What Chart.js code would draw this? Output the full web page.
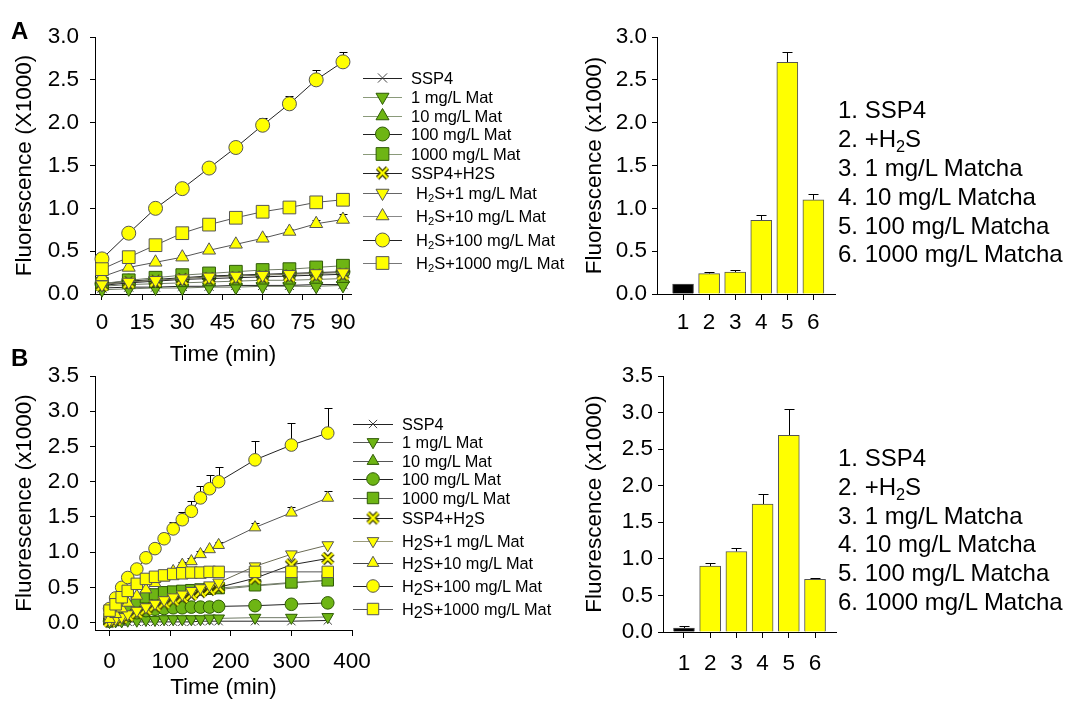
<!DOCTYPE html>
<html>
<head>
<meta charset="utf-8">
<script src="https://cdn.jsdelivr.net/npm/chart.js@4.4.0/dist/chart.umd.min.js"></script>
<style>
  body { margin: 0; background: #fff; }
  #fig { position: relative; width: 1066px; height: 701px; overflow: hidden;
         font-family: 'Liberation Sans', Arial, sans-serif; color: #000; }
  #fig canvas { position: absolute; }
  .panel { position: absolute; font-weight: bold; font-size: 24px; line-height: 1; }
  .leg { position: absolute; white-space: nowrap; line-height: 1; transform: translateY(-50%); }
  .legA { font-size: 16.5px; }
  .legB { font-size: 16.3px; }
  .legB sub { font-size: 100%; vertical-align: -0.22em; }
  .list { position: absolute; font-size: 24px; white-space: nowrap; line-height: 1; transform: translateY(-50%); }
  sub { font-size: 68%; vertical-align: -0.3em; line-height: 0; }
</style>
</head>
<body>
<div id="fig">
  <canvas id="lineA" width="580" height="370" style="left:0;top:0"></canvas>
  <canvas id="barA" width="290" height="370" style="left:560px;top:0"></canvas>
  <canvas id="lineB" width="580" height="351" style="left:0;top:350px"></canvas>
  <canvas id="barB" width="290" height="351" style="left:560px;top:350px"></canvas>
  <div class="panel" style="left:11px;top:19px">A</div>
  <div class="panel" style="left:11px;top:346px">B</div>
</div>
<script>
// ---- données ----
const timesA = [0, 10, 20, 30, 40, 50, 60, 70, 80, 90];
const ssp4A     = [0.07, 0.08, 0.08, 0.09, 0.09, 0.10, 0.10, 0.10, 0.11, 0.11];
const mat1A     = [0.05, 0.06, 0.07, 0.07, 0.08, 0.08, 0.09, 0.09, 0.09, 0.10];
const mat10A    = [0.09, 0.11, 0.12, 0.13, 0.14, 0.15, 0.16, 0.16, 0.17, 0.18];
const mat100A   = [0.12, 0.15, 0.17, 0.19, 0.21, 0.22, 0.23, 0.24, 0.25, 0.26];
const mat1000A  = [0.12, 0.16, 0.19, 0.22, 0.24, 0.26, 0.28, 0.29, 0.31, 0.33];
const h2sA      = [0.10, 0.13, 0.15, 0.17, 0.18, 0.19, 0.20, 0.21, 0.22, 0.23];
const h2s1A     = [0.11, 0.14, 0.16, 0.18, 0.20, 0.21, 0.22, 0.23, 0.24, 0.25];
const h2s10A    = [0.20, 0.31, 0.37, 0.43, 0.51, 0.58, 0.65, 0.73, 0.82, 0.87];
const h2s100A   = [0.41, 0.71, 1.00, 1.23, 1.47, 1.71, 1.97, 2.22, 2.50, 2.71];
const h2s1000A  = [0.29, 0.43, 0.57, 0.71, 0.81, 0.89, 0.96, 1.01, 1.07, 1.10];
const errH2s10A   = [0.01, 0.01, 0.01, 0.02, 0.02, 0.02, 0.03, 0.03, 0.04, 0.06];
const errH2s100A  = [0.02, 0.02, 0.02, 0.02, 0.02, 0.03, 0.08, 0.09, 0.11, 0.12];
const errH2s1000A = [0.01, 0.01, 0.02, 0.02, 0.02, 0.03, 0.03, 0.04, 0.05, 0.07];

const timesB = [0, 10, 20, 30, 45, 60, 75, 90, 105, 120, 135, 150, 165, 180, 240, 300, 360];
const ssp4B     = [0.00, 0.01, 0.01, 0.01, 0.01, 0.01, 0.01, 0.01, 0.01, 0.01, 0.01, 0.02, 0.02, 0.02, 0.02, 0.02, 0.03];
const mat1B     = [0.01, 0.02, 0.02, 0.03, 0.03, 0.04, 0.04, 0.05, 0.05, 0.05, 0.05, 0.05, 0.06, 0.06, 0.07, 0.07, 0.08];
const mat10B    = [0.02, 0.05, 0.09, 0.14, 0.20, 0.26, 0.31, 0.35, 0.38, 0.41, 0.43, 0.45, 0.46, 0.47, 0.52, 0.56, 0.60];
const mat100B   = [0.02, 0.04, 0.07, 0.10, 0.14, 0.17, 0.19, 0.20, 0.21, 0.21, 0.22, 0.22, 0.22, 0.23, 0.24, 0.26, 0.28];
const mat1000B  = [0.05, 0.10, 0.16, 0.23, 0.30, 0.36, 0.40, 0.43, 0.44, 0.45, 0.46, 0.47, 0.48, 0.49, 0.53, 0.57, 0.60];
const h2sB      = [0.02, 0.04, 0.07, 0.10, 0.14, 0.19, 0.24, 0.28, 0.32, 0.36, 0.40, 0.44, 0.47, 0.50, 0.63, 0.82, 0.91];
const h2s1B     = [0.03, 0.05, 0.08, 0.12, 0.17, 0.22, 0.27, 0.32, 0.36, 0.40, 0.45, 0.49, 0.53, 0.57, 0.80, 0.97, 1.10];
const h2s10B    = [0.05, 0.12, 0.20, 0.28, 0.38, 0.47, 0.56, 0.64, 0.73, 0.82, 0.87, 0.97, 1.04, 1.10, 1.35, 1.56, 1.77];
const h2s100B   = [0.20, 0.35, 0.50, 0.64, 0.76, 0.92, 1.05, 1.19, 1.33, 1.46, 1.58, 1.77, 1.90, 2.00, 2.31, 2.52, 2.69];
const h2s1000B  = [0.17, 0.26, 0.36, 0.45, 0.55, 0.62, 0.65, 0.67, 0.69, 0.70, 0.71, 0.71, 0.72, 0.72, 0.72, 0.72, 0.72];
const errMat1000B = [0, 0, 0, 0.02, 0.03, 0.04, 0.05, 0.06, 0.07, 0.07, 0.08, 0.08, 0.08, 0.08, 0.06, 0.06, 0.06];
const errH2s10B   = [0, 0, 0, 0, 0.02, 0.02, 0.03, 0.03, 0.03, 0.04, 0.04, 0.04, 0.04, 0.05, 0.07, 0.08, 0.10];
const errH2s100B  = [0.02, 0.03, 0.04, 0.05, 0.06, 0.07, 0.08, 0.08, 0.10, 0.11, 0.14, 0.17, 0.19, 0.21, 0.27, 0.32, 0.36];

const seriesLabelsA = ['SSP4', '1 mg/L Mat', '10 mg/L Mat', '100 mg/L Mat', '1000 mg/L Mat', 'SSP4+H2S',
  'H_2S+1 mg/L Mat', 'H_2S+10 mg/L Mat', 'H_2S+100 mg/L Mat', 'H_2S+1000 mg/L Mat'];
const seriesLabelsB = ['SSP4', '1 mg/L Mat', '10 mg/L Mat', '100 mg/L Mat', '1000 mg/L Mat', 'SSP4+H_2S',
  'H_2S+1 mg/L Mat', 'H_2S+10 mg/L Mat', 'H_2S+100 mg/L Mat', 'H_2S+1000 mg/L Mat'];

const barCats = [1, 2, 3, 4, 5, 6];
const barA    = [0.115, 0.237, 0.256, 0.86, 2.705, 1.10];
const errBarA = [0, 0.02, 0.024, 0.06, 0.125, 0.07];
const barB    = [0.055, 0.90, 1.10, 1.75, 2.69, 0.72];
const errBarB = [0.025, 0.05, 0.05, 0.13, 0.36, 0.02];
const barNames = ['1. SSP4', '2. +H_2S', '3. 1 mg/L Matcha', '4. 10 mg/L Matcha', '5. 100 mg/L Matcha', '6. 1000 mg/L Matcha'];

const ticksXA = [0, 15, 30, 45, 60, 75, 90];
const ticksXB = [0, 100, 200, 300, 400];
const ticksYA = [0, 0.5, 1.0, 1.5, 2.0, 2.5, 3.0];
const ticksYB = [0, 0.5, 1.0, 1.5, 2.0, 2.5, 3.0, 3.5];

// ---- styles ----
const YEL = '#ffff00', GRN = '#6eb514';
const FS = 22.5;
function makeYellowX(size) {
  const c = document.createElement('canvas');
  c.width = c.height = size;
  const g = c.getContext('2d');
  const a = 2.5, b = size - 2.5;
  const path = () => { g.beginPath(); g.moveTo(a, a); g.lineTo(b, b); g.moveTo(b, a); g.lineTo(a, b); g.stroke(); };
  g.strokeStyle = '#3a3a00'; g.lineWidth = 4.6; path();
  g.strokeStyle = YEL; g.lineWidth = 2.4; path();
  return c;
}
const yellowX = makeYellowX(15);

const STYLES = [
  { shape: 'crossRot', fill: '#000', edge: '#444', line: '#222', r: 6.5 },
  { shape: 'triangle', rot: 180, fill: GRN, edge: '#2f5a06', line: '#707a66', r: 7.5 },
  { shape: 'triangle', fill: GRN, edge: '#2f5a06', line: '#707a66', r: 7.5 },
  { shape: 'circle', fill: GRN, edge: '#2f5a06', line: '#222', r: 7 },
  { shape: 'rect', fill: GRN, edge: '#2f5a06', line: '#707a66', r: 9 },
  { shape: yellowX, fill: YEL, edge: '#333', line: '#222', r: 7 },
  { shape: 'triangle', rot: 180, fill: YEL, edge: '#555', line: '#6b6b55', r: 7.5 },
  { shape: 'triangle', fill: YEL, edge: '#555', line: '#555', r: 7.5 },
  { shape: 'circle', fill: YEL, edge: '#555', line: '#222', r: 7 },
  { shape: 'rect', fill: YEL, edge: '#555', line: '#555', r: 9 }
];

Chart.defaults.font.family = "'Liberation Sans', Arial, sans-serif";
Chart.defaults.color = '#000';

// barres d'erreur (vers le haut seulement)
const errorBars = {
  id: 'errorBars',
  beforeDatasetsDraw(chart, args, o) {
    const ctx = chart.ctx, ys = chart.scales.y;
    ctx.save();
    ctx.strokeStyle = '#000';
    ctx.lineWidth = 1;
    chart.data.datasets.forEach((ds, i) => {
      if (!ds.errUp) return;
      chart.getDatasetMeta(i).data.forEach((el, j) => {
        const e = ds.errUp[j];
        if (!e) return;
        const v = ds.data[j].y;
        const top = Math.round(ys.getPixelForValue(v + e)) + 0.5;
        const x = Math.round(el.x) + 0.5;
        ctx.beginPath();
        ctx.moveTo(x, el.y);
        ctx.lineTo(x, top);
        ctx.moveTo(x - o.cap, top);
        ctx.lineTo(x + o.cap, top);
        ctx.stroke();
      });
    });
    ctx.restore();
  }
};

// symboles de la légende
const symLegend = {
  id: 'symLegend',
  afterDraw(chart, args, o) {
    if (!o.rows) return;
    const ctx = chart.ctx;
    chart.data.datasets.forEach((ds, i) => {
      const y = o.rows[i];
      ctx.save();
      ctx.strokeStyle = o.lineColors ? o.lineColors[i] : '#000';
      ctx.lineWidth = 1;
      ctx.beginPath();
      ctx.moveTo(o.x1, Math.round(y) + 0.5);
      ctx.lineTo(o.x2, Math.round(y) + 0.5);
      ctx.stroke();
      ctx.fillStyle = ds.pointBackgroundColor;
      ctx.strokeStyle = ds.pointBorderColor;
      ctx.lineWidth = 1;
      Chart.helpers.drawPoint(ctx, {
        pointStyle: ds.pointStyle, rotation: ds.pointRotation,
        radius: ds.pointRadius, borderWidth: 1
      }, (o.x1 + o.x2) / 2, y);
      ctx.restore();
    });
  }
};

function axisStyle(tickLen) {
  return {
    offset: false,
    grid: { display: true, offset: false, drawOnChartArea: false, drawTicks: true, tickLength: tickLen, color: '#000', lineWidth: 1 },
    border: { display: true, color: '#000', width: 1 }
  };
}

function lineChart(id, cfg) {
  const datasets = cfg.series.map((vals, i) => {
    const st = STYLES[i];
    return {
      label: cfg.labels[i].replace('_2', '2'),
      data: vals.map((v, j) => ({ x: cfg.times[j], y: v })),
      errUp: cfg.errs[i] || null,
      borderColor: st.line,
      borderWidth: 1,
      pointStyle: st.shape,
      pointRotation: st.rot || 0,
      pointRadius: st.r * cfg.k,
      pointBackgroundColor: st.fill,
      pointBorderColor: st.edge,
      pointBorderWidth: 1,
      order: cfg.series.length - i,
      clip: false,
      tension: 0,
      fill: false
    };
  });
  return new Chart(document.getElementById(id), {
    type: 'line',
    data: { datasets },
    options: {
      responsive: false,
      animation: false,
      events: [],
      layout: { padding: cfg.pad },
      plugins: {
        legend: { display: false },
        tooltip: { enabled: false },
        errorBars: { cap: 4 },
        symLegend: { rows: cfg.rows, x1: cfg.lx1, x2: cfg.lx2, lineColors: cfg.legLines }
      },
      scales: {
        x: {
          type: 'linear', min: cfg.xmin, max: cfg.xmax,
          afterBuildTicks: s => { s.ticks = cfg.xTicks.map(v => ({ value: v })); },
          afterFit: s => { s.height = cfg.xh; },
          ...axisStyle(6),
          ticks: { font: { size: FS }, padding: cfg.xtp, maxRotation: 0, autoSkip: false, callback: v => String(v) },
          title: { display: true, text: 'Time (min)', font: { size: FS }, padding: { top: 0, bottom: cfg.xtb } }
        },
        y: {
          min: cfg.ymin, max: cfg.ymax,
          afterBuildTicks: s => { s.ticks = cfg.yTicks.map(v => ({ value: v })); },
          afterFit: s => { s.width = cfg.yw; },
          ...axisStyle(5),
          ticks: { font: { size: FS }, padding: 11, callback: v => v.toFixed(1) },
          title: { display: true, text: cfg.ytitle, font: { size: FS }, padding: { top: cfg.ytp, bottom: 0 } }
        }
      }
    },
    plugins: [errorBars, symLegend]
  });
}

function barChart(id, cfg) {
  return new Chart(document.getElementById(id), {
    type: 'bar',
    data: {
      datasets: [{
        data: cfg.values.map((v, i) => ({ x: barCats[i], y: v })),
        errUp: cfg.errs,
        backgroundColor: ['#000', YEL, YEL, YEL, YEL, YEL],
        borderColor: '#555',
        borderWidth: 1,
        borderSkipped: 'start',
        barThickness: 21
      }]
    },
    options: {
      responsive: false,
      animation: false,
      events: [],
      layout: { padding: cfg.pad },
      plugins: { legend: { display: false }, tooltip: { enabled: false }, errorBars: { cap: 5 } },
      scales: {
        x: {
          type: 'linear', min: cfg.xmin, max: cfg.xmax,
          afterBuildTicks: s => { s.ticks = barCats.map(v => ({ value: v })); },
          afterFit: s => { s.height = cfg.xh; },
          ...axisStyle(6),
          ticks: { font: { size: FS }, padding: cfg.xtp, maxRotation: 0, autoSkip: false, callback: v => String(v) }
        },
        y: {
          min: 0, max: cfg.ymax,
          afterBuildTicks: s => { s.ticks = cfg.yTicks.map(v => ({ value: v })); },
          afterFit: s => { s.width = cfg.yw; },
          ...axisStyle(5),
          ticks: { font: { size: FS }, padding: 5, callback: v => v.toFixed(1) },
          title: { display: true, text: 'Fluorescence (x1000)', font: { size: FS }, padding: { top: 21, bottom: 0 } }
        }
      }
    },
    plugins: [errorBars]
  });
}

const legLinesA = ['#222', '#8a9a7a', '#8a9a7a', '#222', '#8a9a7a', '#222', '#666', '#888', '#222', '#777'];
const legLinesB = ['#222', '#555', '#555', '#222', '#555', '#222', '#9a9a7a', '#444', '#222', '#555'];

lineChart('lineA', {
  times: timesA,
  series: [ssp4A, mat1A, mat10A, mat100A, mat1000A, h2sA, h2s1A, h2s10A, h2s100A, h2s1000A],
  errs: [null, null, null, null, null, null, null, errH2s10A, errH2s100A, errH2s1000A],
  labels: seriesLabelsA, k: 1,
  xmin: -2.6, xmax: 93, xTicks: ticksXA, ymin: 0, ymax: 3, yTicks: ticksYA,
  pad: { left: 0, top: 37, right: 229, bottom: 0 }, yw: 95, xh: 76, xtp: 9, xtb: 2, ytp: 11,
  ytitle: 'Fluorescence (X1000)',
  rows: [78, 97, 116, 134, 154, 173, 193, 216, 240, 263], lx1: 363, lx2: 402, legLines: legLinesA
});

lineChart('lineB', {
  times: timesB,
  series: [ssp4B, mat1B, mat10B, mat100B, mat1000B, h2sB, h2s1B, h2s10B, h2s100B, h2s1000B],
  errs: [null, null, null, null, errMat1000B, null, null, errH2s10B, errH2s100B, null],
  labels: seriesLabelsB, k: 0.9,
  xmin: -24, xmax: 400, xTicks: ticksXB, ymin: -0.105, ymax: 3.5, yTicks: ticksYB,
  pad: { left: 0, top: 26, right: 228, bottom: 0 }, yw: 95, xh: 71, xtp: 12, xtb: 0, ytp: 11,
  ytitle: 'Fluorescence (x1000)',
  rows: [74, 92, 111, 129, 148, 168, 191, 213, 236, 259], lx1: 353, lx2: 393, legLines: legLinesB
});

barChart('barA', {
  values: barA, errs: errBarA, xmin: 0, xmax: 6.83, ymax: 3.0, yTicks: ticksYA,
  pad: { left: 0, top: 37, right: 15, bottom: 0 }, yw: 97, xh: 76, xtp: 9
});

barChart('barB', {
  values: barB, errs: errBarB, xmin: 0.2, xmax: 6.8, ymax: 3.5, yTicks: ticksYB,
  pad: { left: 0, top: 26, right: 14, bottom: 0 }, yw: 103, xh: 69, xtp: 12
});

// textes de légende et listes (texte HTML réel)
function addText(cls, x, y, txt) {
  const d = document.createElement('div');
  d.className = cls;
  d.style.left = x + 'px';
  d.style.top = y + 'px';
  d.innerHTML = txt.replace('_2', '<sub>2</sub>');
  document.getElementById('fig').appendChild(d);
}
const legRowsA = [78, 97, 116, 134, 154, 173, 193, 216, 240, 263];
const legRowsB = [424, 442, 461, 479, 498, 518, 541, 563, 586, 609];
seriesLabelsA.forEach((t, i) => addText('leg legA', t.startsWith('H_2') ? 416 : 411, legRowsA[i], t));
seriesLabelsB.forEach((t, i) => addText('leg legB', 402, legRowsB[i], t));
const listRowsA = [110, 139, 168, 197, 226, 254];
const listRowsB = [458, 487, 516, 544, 573, 602];
barNames.forEach((t, i) => addText('list', 838, listRowsA[i], t));
barNames.forEach((t, i) => addText('list', 838, listRowsB[i], t));
</script>
</body>
</html>
